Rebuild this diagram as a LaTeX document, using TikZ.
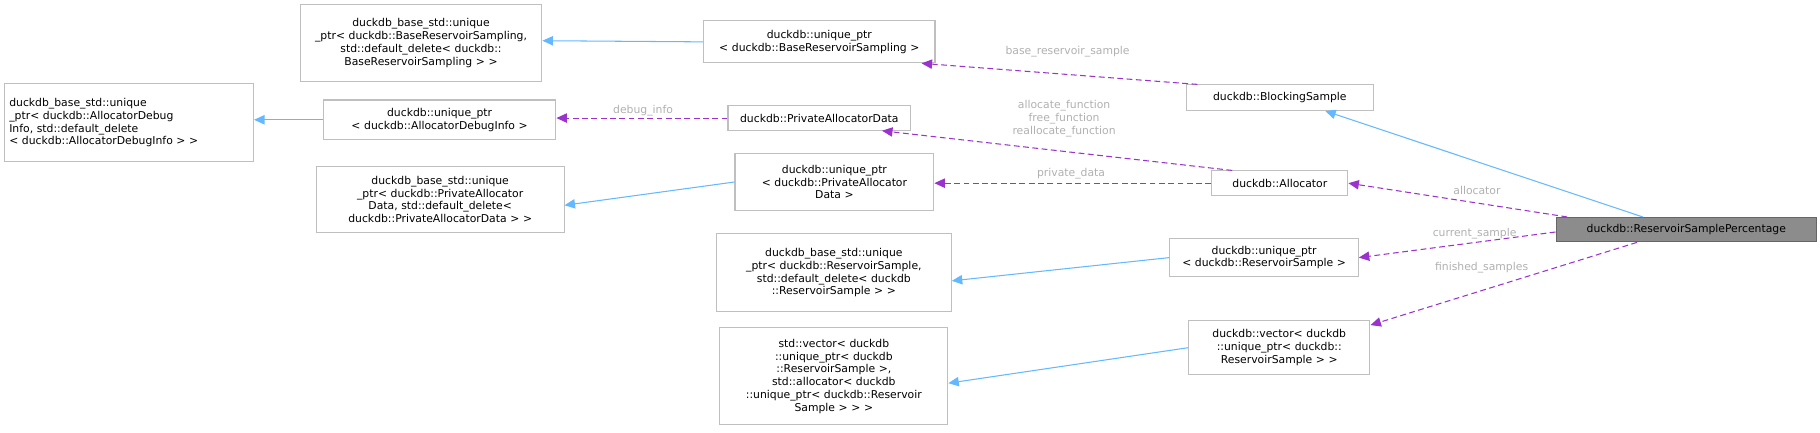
\documentclass[tikz,border=0pt]{standalone}
\usepackage{fontspec}
\setmainfont{DejaVu Sans}
\usetikzlibrary{calc,arrows.meta}
\definecolor{bx}{HTML}{BFBFBF}
\definecolor{inh}{HTML}{63B8FF}
\definecolor{use}{HTML}{9A32CD}
\definecolor{lbl}{HTML}{B0B0B0}
\tikzset{
 box/.style={draw=bx,line width=0.9pt,fill=white,inner sep=1pt,align=center,font=\fontsize{9.3}{11}\selectfont},
 inhe/.style={draw=inh,line width=0.9pt,-{Triangle[length=9pt,width=8pt]}},
 usee/.style={draw=use,line width=0.9pt,dash pattern=on 5pt off 3pt,-{Triangle[length=9pt,width=8pt]}},
 lab/.style={text=lbl,font=\fontsize{9.3}{11}\selectfont,align=center,inner sep=0pt}
}
\newcommand{\bnode}[6]{\node[box,minimum width=#4pt,minimum height=#5pt,text width=#4pt-4pt] (#1) at (#2pt,-#3pt) {#6};}
\begin{document}
\begin{tikzpicture}[x=1pt,y=1pt]
\bnode{A}{362}{37}{208}{66}{duckdb\_base\_std::unique\\\_ptr< duckdb::BaseReservoirSampling,\\ std::default\_delete< duckdb::\\BaseReservoirSampling > >}
\bnode{B}{704.5}{36}{199}{36}{duckdb::unique\_ptr\\< duckdb::BaseReservoirSampling >}
\node[box,align=left,minimum width=214pt,minimum height=67pt,text width=206pt] (C) at (111pt,-105.5pt) {duckdb\_base\_std::unique\\\_ptr< duckdb::AllocatorDebug\\Info, std::default\_delete\\< duckdb::AllocatorDebugInfo > >};
\bnode{D}{378}{103}{200}{34}{duckdb::unique\_ptr\\< duckdb::AllocatorDebugInfo >}
\bnode{E}{704.5}{101.5}{157}{21}{duckdb::PrivateAllocatorData}
\bnode{F}{1100.5}{84}{161}{22}{duckdb::BlockingSample}
\bnode{G}{378.5}{171.5}{213}{57}{duckdb\_base\_std::unique\\\_ptr< duckdb::PrivateAllocator\\Data, std::default\_delete<\\ duckdb::PrivateAllocatorData > >}
\bnode{H}{717.5}{156.5}{171}{49}{duckdb::unique\_ptr\\< duckdb::PrivateAllocator\\Data >}
\bnode{I}{1100.5}{157.5}{117}{21}{duckdb::Allocator}
\node[box,draw=black!60,fill=black!45,minimum width=224pt,minimum height=21pt] (J) at (1450pt,-197.5pt) {duckdb::ReservoirSamplePercentage};
\bnode{K}{717}{234.5}{202}{67}{duckdb\_base\_std::unique\\\_ptr< duckdb::ReservoirSample,\\ std::default\_delete< duckdb\\::ReservoirSample > >}
\bnode{L}{1087}{221.5}{162}{33}{duckdb::unique\_ptr\\< duckdb::ReservoirSample >}
\bnode{M}{717}{323.5}{196}{83}{std::vector< duckdb\\::unique\_ptr< duckdb\\::ReservoirSample >,\\ std::allocator< duckdb\\::unique\_ptr< duckdb::Reservoir\\Sample > > >}
\bnode{N}{1100}{299}{156}{46}{duckdb::vector< duckdb\\::unique\_ptr< duckdb::\\ReservoirSample > >}
% inheritance
\draw[inhe] (B.west) -- (A.east|-0,-35);
\draw[inhe] (D.west) -- (C.east|-D.west);
\draw[inhe] (H.west) -- ($(G.east)+(0,-5)$);
\draw[inhe] (L.west) -- ($(K.east)+(0,-7)$);
\draw[inhe] (N.west) -- ($(M.east)+(0,-6)$);
\draw[inhe] ($(J.north west)+(75,0)$) -- ($(F.south west)+(120,0)$);
% usage
\draw[usee] ($(F.north west)+(10,0)$) -- ($(B.south east)+(-12,0)$);
\draw[usee] (E.west) -- (D.east|-E.west);
\draw[usee] ($(I.north west)+(18,0)$) -- ($(E.south east)+(-25,0)$);
\draw[usee] (I.west) -- (H.east|-I.west);
\draw[usee] ($(J.north west)+(10,0)$) -- (I.east);
\draw[usee] ($(J.west)+(0,-2)$) -- (L.east);
\draw[usee] ($(J.south west)+(70,0)$) -- ($(N.north east)+(0,-4)$);
\node[lab] (l1) at (918pt,-44pt) {base\_reservoir\_sample};
\node[lab] (l2) at (553pt,-95pt) {debug\_info};
\node[lab] (l3) at (915pt,-102pt) {allocate\_function\\free\_function\\reallocate\_function};
\node[lab] (l4) at (921pt,-149pt) {private\_data};
\node[lab] (l5) at (1270pt,-164pt) {allocator};
\node[lab] (l6) at (1268pt,-201pt) {current\_sample};
\node[lab] (l7) at (1274pt,-230pt) {finished\_samples};
\pgfresetboundingbox
\path[use as bounding box] (0,0) rectangle (1565,-371.5);
\end{tikzpicture}
\end{document}
